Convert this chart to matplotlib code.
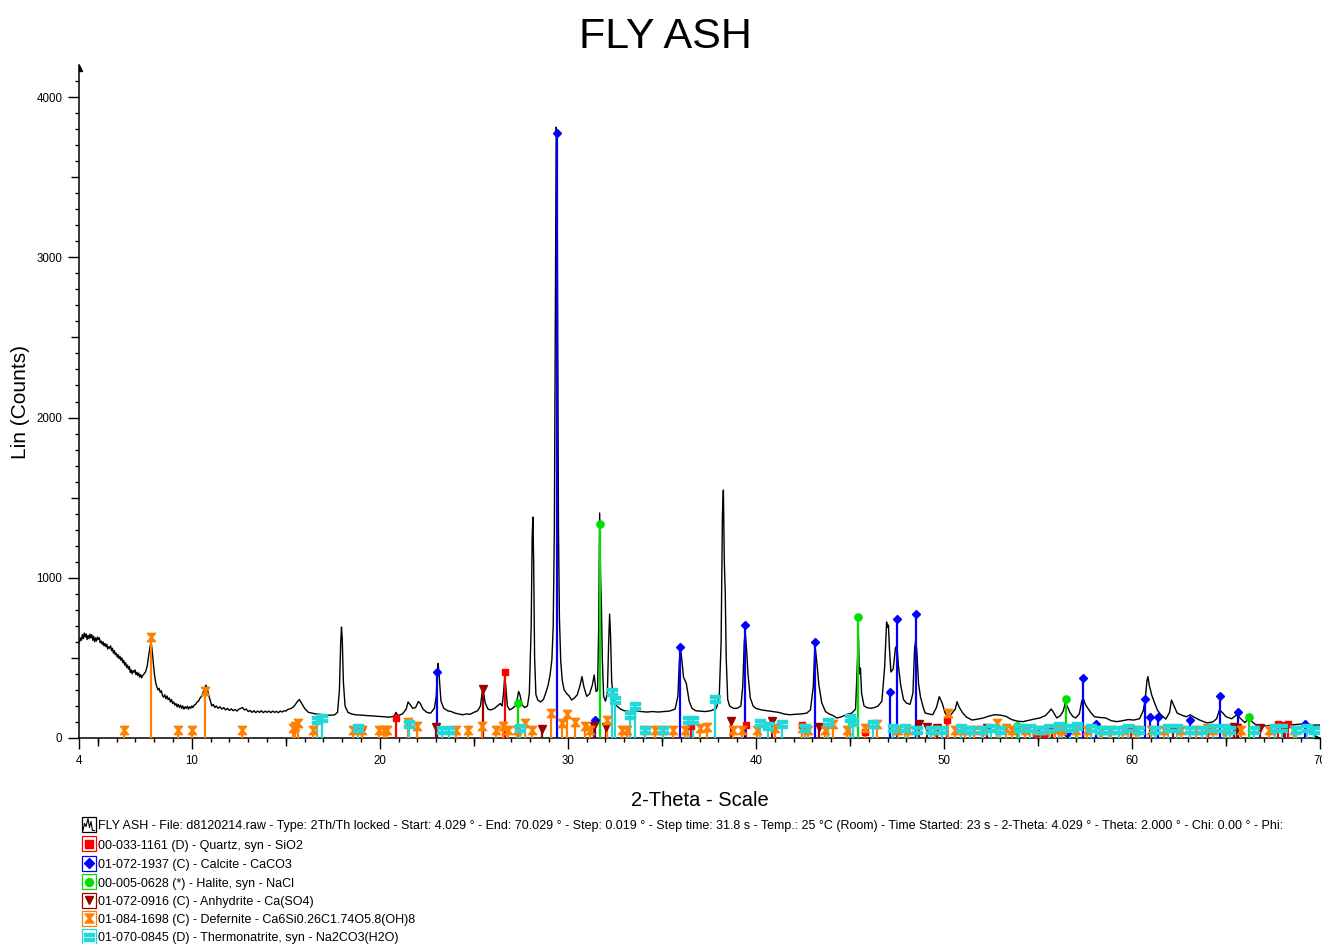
import matplotlib
matplotlib.use("Agg")
import matplotlib.pyplot as plt
from matplotlib.path import Path
from matplotlib.patches import Rectangle

plt.rcParams['font.family'] = ['Liberation Sans', 'DejaVu Sans']

# measured pattern, 2-theta (deg) / counts
two_theta = [
    4.03, 4.08, 4.13, 4.18, 4.23, 4.28, 4.33, 4.38, 4.43, 4.48, 4.53, 4.58, 4.63, 4.68,
    4.73, 4.78, 4.83, 4.88, 4.93, 4.98, 5.03, 5.08, 5.13, 5.18, 5.23, 5.28, 5.33, 5.38,
    5.43, 5.48, 5.53, 5.58, 5.63, 5.68, 5.73, 5.78, 5.83, 5.88, 5.93, 5.98, 6.03, 6.08,
    6.13, 6.18, 6.23, 6.28, 6.33, 6.38, 6.43, 6.48, 6.53, 6.58, 6.63, 6.68, 6.73, 6.78,
    6.83, 6.88, 6.93, 6.98, 7.03, 7.08, 7.13, 7.18, 7.23, 7.28, 7.33, 7.38, 7.43, 7.48,
    7.53, 7.58, 7.63, 7.7, 7.78, 7.83,
    7.88, 7.95, 8.02, 8.08, 8.14, 8.2, 8.26, 8.32, 8.38, 8.44, 8.5, 8.56, 8.62, 8.68,
    8.74, 8.8, 8.86, 8.92, 8.98, 9.04, 9.1, 9.16, 9.22, 9.28, 9.34, 9.4, 9.46, 9.52,
    9.58, 9.64, 9.7, 9.76, 9.82, 9.88, 9.94, 10.0, 10.06, 10.12, 10.2, 10.28, 10.36,
    10.44, 10.52, 10.6, 10.68, 10.75, 10.82, 10.9, 10.98, 11.06, 11.14, 11.22, 11.3,
    11.4, 11.5, 11.6, 11.7, 11.8, 11.9, 12.0, 12.1, 12.2, 12.3, 12.4, 12.5, 12.6, 12.7,
    12.8, 12.9, 13.0, 13.1, 13.2, 13.3, 13.4, 13.5, 13.6, 13.7, 13.8, 13.9, 14.0, 14.1,
    14.2, 14.3, 14.4, 14.5, 14.6, 14.7, 14.8, 14.9, 15.0, 15.1,
    15.3, 15.45, 15.6, 15.72, 15.85, 16.0, 16.2, 16.4, 16.6,
    16.8, 17.0, 17.2, 17.4, 17.6, 17.75, 17.85, 17.92, 17.96, 18.0, 18.06, 18.15, 18.3,
    18.5, 18.7, 19.0, 19.3, 19.6, 19.9, 20.2, 20.5, 20.75, 20.86, 20.95, 21.2, 21.4,
    21.5, 21.6, 21.75, 21.9, 22.05, 22.15, 22.3, 22.5, 22.7, 22.9, 23.0, 23.06, 23.1,
    23.16, 23.25, 23.4, 23.6, 23.8, 24.0, 24.2, 24.4, 24.6, 24.8, 25.0, 25.2, 25.35,
    25.45, 25.52, 25.6, 25.75, 25.9, 26.1, 26.25, 26.4, 26.5, 26.58, 26.64, 26.7,
    26.78, 26.9, 27.05, 27.2, 27.3, 27.38, 27.45, 27.55, 27.7, 27.85, 27.95, 28.05,
    28.1, 28.14, 28.18, 28.23, 28.3, 28.4, 28.55, 28.7, 28.85, 28.95, 29.05, 29.15,
    29.22, 29.28, 29.34, 29.38, 29.42, 29.46, 29.5, 29.55, 29.62, 29.7, 29.8, 29.95,
    30.05, 30.2, 30.35, 30.5, 30.65, 30.75, 30.85, 31.0, 31.15, 31.3, 31.4, 31.5,
    31.58, 31.64, 31.69, 31.74, 31.78, 31.83, 31.9, 32.0, 32.1, 32.17, 32.22, 32.27,
    32.33, 32.45, 32.6, 32.8, 33.0, 33.3, 33.6, 33.9, 34.2, 34.5, 34.8, 35.1, 35.4,
    35.7, 35.85, 35.93, 35.98, 36.05, 36.15, 36.3, 36.45, 36.6, 36.8, 37.0, 37.3, 37.6,
    37.9, 38.05, 38.15, 38.22, 38.27, 38.32, 38.37, 38.42, 38.5, 38.6, 38.8, 39.0,
    39.2, 39.3, 39.38, 39.43, 39.5, 39.58, 39.7, 39.85, 40.0, 40.3, 40.6, 40.9, 41.2,
    41.5, 41.8, 42.1, 42.4, 42.7, 42.9, 43.05, 43.12, 43.17, 43.25, 43.35, 43.5, 43.7,
    43.9, 44.1, 44.3, 44.5, 44.7, 44.9, 45.1, 45.3, 45.39, 45.45, 45.5, 45.56, 45.62,
    45.75, 45.9, 46.1, 46.3, 46.5, 46.7, 46.85, 46.95, 47.0, 47.05, 47.1, 47.18, 47.3,
    47.42, 47.5, 47.58, 47.7, 47.85, 48.0, 48.2, 48.35, 48.44, 48.5, 48.56, 48.65,
    48.75, 48.9, 49.0, 49.2, 49.4, 49.6, 49.75, 49.9, 50.05, 50.2, 50.4, 50.6, 50.7,
    50.8, 51.0, 51.2, 51.5, 51.8, 52.1, 52.4, 52.7, 53.0, 53.3, 53.6, 53.9, 54.2, 54.5,
    54.8, 55.1, 55.4, 55.6, 55.7, 55.8, 56.0, 56.2, 56.35, 56.45, 56.55, 56.7, 56.85,
    57.0, 57.2, 57.33, 57.4, 57.5, 57.6, 57.8, 58.0, 58.3, 58.6, 58.9, 59.2, 59.5,
    59.8, 60.1, 60.4, 60.6, 60.7, 60.8, 60.85, 60.92, 61.05, 61.2, 61.35, 61.5, 61.8,
    62.0, 62.1, 62.2, 62.4, 62.7, 62.9, 63.1, 63.3, 63.6, 64.0, 64.3, 64.5, 64.65,
    64.8, 65.0, 65.3, 65.55, 65.7, 66.0, 66.25, 66.4, 66.6, 67.0, 67.5, 68.0, 68.5,
    69.0, 69.5, 70.0,
]
counts = [
    600, 625, 610, 645, 620, 655, 630, 650, 615, 640, 620, 648, 625, 645,
    610, 635, 600, 625, 605, 630, 615, 625, 595, 605, 585, 600, 575, 590,
    570, 585, 555, 570, 560, 575, 545, 560, 530, 545, 520, 530, 505, 520,
    495, 510, 485, 500, 470, 485, 455, 470, 440, 455, 430, 445, 410, 425,
    400, 420, 410, 425, 395, 410, 390, 405, 380, 395, 375, 390, 395, 405,
    410, 430, 450, 510, 570, 600,
    560, 470, 390, 345, 320, 300, 310, 285, 295, 265, 255, 270, 245, 262,
    240, 250, 225, 240, 215, 225, 205, 215, 195, 210, 190, 205, 185, 200,
    180, 195, 185, 198, 180, 195, 185, 200, 190, 205, 210, 225, 230,
    250, 260, 285, 310, 330, 310, 265, 235, 200, 210, 190, 200,
    185, 195, 180, 190, 175, 185, 172, 182, 170, 178, 168, 180, 185, 190,
    175, 180, 165, 172, 160, 170, 158, 168, 160, 170, 158, 168, 160, 168,
    158, 168, 160, 166, 158, 168, 162, 170, 168, 178,
    185, 200, 225, 240, 215, 185, 160, 155, 150,
    148, 145, 143, 142, 145, 160, 300, 600, 692, 620, 350, 200, 160,
    150, 145, 143, 140, 138, 135, 133, 130, 135, 160, 140, 150, 180,
    225, 210, 185, 190, 228, 215, 180, 160, 155, 185, 260, 420, 465,
    380, 230, 185, 170, 165, 155, 150, 145, 150, 148, 160, 170, 200,
    290, 280, 220, 180, 175, 185, 200, 215, 200, 280, 382, 320,
    200, 175, 185, 200, 240, 290, 270, 210, 190, 200, 280, 700,
    1250, 1379, 1100, 500, 270, 237, 225, 240, 290, 330, 390, 490,
    700, 1300, 2800, 3812, 3700, 2500, 1300, 750, 480, 360, 300, 275,
    265, 237, 250, 270, 330, 383, 320, 260, 275, 330, 393, 290,
    300, 700, 1404, 1000, 850, 500, 260, 230, 280, 600, 773, 640,
    350, 230, 200, 180, 170, 165, 170, 165, 162, 165, 162, 165, 168,
    180, 260, 480, 565, 500, 380, 340, 230, 185, 170, 168, 165, 170,
    185, 260, 600, 1400, 1547, 1100, 900, 500, 240, 200, 185, 185,
    200, 320, 600, 661, 560, 400, 250, 200, 185, 175, 170, 165, 160,
    150, 145, 148, 150, 155, 175, 320, 530, 549, 460, 330, 220, 165,
    150, 140, 125, 130, 140, 150, 155, 180, 450, 655, 400, 437, 280,
    200, 190, 185, 190, 200, 230, 450, 724, 690, 705, 560, 412, 430,
    560, 580, 450, 330, 240, 218, 210, 280, 560, 611, 540, 340,
    258, 190, 156, 150, 145, 190, 258, 220, 160, 133, 150, 180, 226,
    195, 156, 130, 112, 118, 125, 137, 145, 143, 135, 115, 105, 102, 110,
    118, 125, 140, 165, 181, 165, 125, 140, 170, 218, 200, 160, 135,
    125, 150, 230, 250, 215, 195, 160, 133, 128, 125, 108, 102, 108,
    115, 112, 120, 170, 237, 360, 383, 330, 268, 220, 175, 150, 118,
    160, 237, 210, 156, 140, 133, 145, 130, 112, 94, 100, 120, 175,
    160, 133, 120, 143, 130, 96, 125, 100, 81, 75, 80, 78, 82,
    87, 80, 81,
]

# reference patterns: line positions and scaled intensities
quartz_pos = [20.86, 26.64, 36.54, 39.47, 42.45, 45.79, 50.14, 54.87, 55.33, 59.96, 64.03, 67.74, 68.14, 68.32]
quartz_int = [125, 412, 75, 81, 81, 40, 112, 30, 25, 60, 50, 87, 80, 85]

calcite_pos = [23.06, 29.41, 31.42, 35.97, 39.41, 43.16, 47.12, 47.5, 48.51, 56.57, 57.41, 58.1,
               60.68, 60.98, 61.36, 63.06, 64.68, 65.63, 69.22]
calcite_int = [412, 3774, 112, 568, 705, 600, 289, 742, 773, 30, 374, 87,
               243, 131, 131, 110, 262, 162, 87]

halite_pos = [27.33, 31.69, 45.45, 53.87, 56.48, 66.23]
halite_int = [216, 1335, 755, 75, 243, 131]

anhydrite_pos = [19.04, 22.97, 25.47, 28.63, 31.39, 32.03, 38.66, 40.84, 43.36, 48.66, 49.12,
                 49.62, 52.3, 55.75, 62.2, 65.4, 65.6, 66.8, 68.1]
anhydrite_int = [50, 69, 304, 56, 75, 69, 106, 106, 69, 90, 66,
                 60, 62, 55, 55, 69, 60, 62, 55]

defernite_pos = [6.39, 7.83, 9.27, 10.0, 10.72, 12.67, 15.38, 15.5, 15.63, 16.42, 18.56, 19.04,
                 19.96, 20.2, 20.38, 21.48, 21.96, 24.05, 24.7, 25.45, 26.2, 26.57, 26.8, 27.3,
                 27.7, 28.08, 29.1, 29.67, 29.94, 30.38, 30.9, 31.2, 32.07, 32.87, 33.13, 34.1,
                 34.64, 35.07, 35.6, 36.23, 37.03, 37.39, 38.8, 39.25, 40.04, 41.0, 42.44, 42.78,
                 43.68, 44.1, 44.83, 45.8, 46.43, 47.56, 48.1, 49.5, 50.2, 50.6, 51.1, 51.6,
                 52.1, 52.8, 53.3, 53.6, 54.3, 54.9, 55.4, 55.9, 56.3, 57.0, 57.6, 58.4, 58.9,
                 59.5, 60.2, 61.0, 61.7, 62.6, 63.4, 64.0, 64.3, 65.0, 65.8, 67.3, 68.6]
defernite_int = [50, 630, 50, 50, 293, 50, 62, 75, 94, 50, 50, 50,
                 50, 50, 50, 100, 75, 50, 50, 75, 50, 75, 50, 50,
                 94, 50, 156, 94, 150, 100, 75, 50, 112, 50, 50, 50,
                 50, 50, 50, 50, 62, 70, 50, 50, 50, 62, 62, 50,
                 50, 87, 50, 62, 87, 50, 50, 50, 156, 50, 50, 50,
                 50, 94, 62, 50, 50, 50, 50, 55, 50, 50, 50, 50, 50,
                 50, 50, 50, 50, 50, 50, 62, 50, 50, 50, 50, 50]

thermo_pos = [16.64, 16.9, 18.82, 21.55, 23.3, 23.68, 27.46, 32.33, 32.5, 33.3, 33.57, 34.1,
              35.07, 36.4, 36.66, 37.8, 40.2, 40.64, 41.37, 42.6, 43.85, 45.0, 45.17, 46.24,
              47.3, 47.93, 48.55, 49.3, 49.9, 50.9, 51.4, 52.0, 52.5, 53.0, 54.0, 54.6, 55.1,
              55.6, 56.1, 56.7, 57.1, 57.8, 58.3, 58.8, 59.3, 59.8, 60.4, 61.2, 61.9, 62.4,
              63.1, 63.7, 64.3, 64.9, 65.2, 66.5, 67.6, 68.0, 68.7, 69.3, 69.7]
thermo_int = [112, 125, 62, 90, 50, 50, 62, 287, 237, 143, 200, 50,
              50, 112, 112, 243, 94, 75, 87, 62, 102, 125, 100, 87,
              62, 62, 50, 50, 50, 62, 50, 50, 62, 50, 62, 62, 50,
              62, 75, 62, 75, 62, 50, 50, 50, 62, 50, 50, 62, 62,
              50, 50, 62, 62, 50, 50, 62, 62, 50, 62, 50]

header = ("FLY ASH - File: d8120214.raw - Type: 2Th/Th locked - Start: 4.029 \u00b0 - End: 70.029 \u00b0 - "
          "Step: 0.019 \u00b0 - Step time: 31.8 s - Temp.: 25 \u00b0C (Room) - Time Started: 23 s - "
          "2-Theta: 4.029 \u00b0 - Theta: 2.000 \u00b0 - Chi: 0.00 \u00b0 - Phi:")
phase_labels = [
    "00-033-1161 (D) - Quartz, syn - SiO2",
    "01-072-1937 (C) - Calcite - CaCO3",
    "00-005-0628 (*) - Halite, syn - NaCl",
    "01-072-0916 (C) - Anhydrite - Ca(SO4)",
    "01-084-1698 (C) - Defernite - Ca6Si0.26C1.74O5.8(OH)8",
    "01-070-0845 (D) - Thermonatrite, syn - Na2CO3(H2O)",
]

# custom markers: hourglass and double bar
hourglass = Path([(-1, 1), (1, 1), (0.15, 0), (1, -1), (-1, -1), (-0.15, 0), (-1, 1)],
                 [Path.MOVETO] + [Path.LINETO] * 5 + [Path.CLOSEPOLY])
bars = Path([(-1, 0.2), (1, 0.2), (1, 0.9), (-1, 0.9), (-1, 0.2),
             (-1, -0.9), (1, -0.9), (1, -0.2), (-1, -0.2), (-1, -0.9)],
            [Path.MOVETO, Path.LINETO, Path.LINETO, Path.LINETO, Path.CLOSEPOLY] * 2)
half_arrow_x = Path([(-1, 0.55), (-1, 0), (0, 0), (-1, 0.55)],
                    [Path.MOVETO, Path.LINETO, Path.LINETO, Path.CLOSEPOLY])
half_arrow_y = Path([(0, 0), (0, -1), (0.55, -1), (0, 0)],
                    [Path.MOVETO, Path.LINETO, Path.LINETO, Path.CLOSEPOLY])

phases = [
    (quartz_pos, quartz_int, '#FF0000', 's', 5.0),
    (calcite_pos, calcite_int, '#0000FF', 'D', 4.2),
    (halite_pos, halite_int, '#00E000', 'o', 5.2),
    (anhydrite_pos, anhydrite_int, '#A00000', 'v', 5.5),
    (defernite_pos, defernite_int, '#FF8000', hourglass, 6.0),
    (thermo_pos, thermo_int, '#22D8D8', bars, 6.5),
]

W, H = 1322, 944
fig = plt.figure(figsize=(W / 100, H / 100), dpi=100)

# legend drawn in pixel coordinates
leg = fig.add_axes([0, 0, 1, 1])
leg.set_xlim(0, W)
leg.set_ylim(H, 0)
leg.axis('off')

ax = fig.add_axes([79 / W, 1 - 738 / H, (1320 - 79) / W, (738 - 65) / H])
ax.set_xlim(4, 70)
ax.set_ylim(0, 4200)

ax.plot(two_theta, counts, color='black', lw=1.0, zorder=3)

for pos, inten, col, mk, ms in phases:
    ax.vlines(pos, 0, inten, color=col, lw=1.6, zorder=4)
    ax.plot(pos, inten, ls='none', marker=mk, ms=ms, color=col, mec=col, zorder=5, clip_on=False)

for s in ['top', 'right']:
    ax.spines[s].set_visible(False)
for s in ['left', 'bottom']:
    ax.spines[s].set_linewidth(1.1)

ax.set_xticks([4, 10, 20, 30, 40, 50, 60, 70])
ax.set_xticks(range(5, 70), minor=True)
ax.set_yticks([0, 1000, 2000, 3000, 4000])
ax.set_yticks([v for v in range(100, 4200, 100) if v % 500], minor=True)
ax.tick_params(axis='both', which='major', length=8, width=1, labelsize=8.3, pad=4)
ax.tick_params(axis='both', which='minor', length=3, width=1)

# medium ticks at 5-degree and 500-count steps
xmid = ax.secondary_xaxis('bottom')
xmid.set_xticks([v for v in range(5, 70, 5) if v % 10])
xmid.tick_params(length=5.5, width=1, labelbottom=False)
xmid.spines['bottom'].set_visible(False)
ymid = ax.secondary_yaxis('left')
ymid.set_yticks([500, 1500, 2500, 3500])
ymid.tick_params(length=5.5, width=1, labelleft=False)
ymid.spines['left'].set_visible(False)

ax.plot(1, 0, marker=half_arrow_x, ms=9, color='black', transform=ax.transAxes, clip_on=False)
ax.plot(0, 1, marker=half_arrow_y, ms=9, color='black', transform=ax.transAxes, clip_on=False)

fig.text(665 / W, 1 - 37 / H, "FLY ASH", fontsize=31, ha='center', va='center')
fig.text(700 / W, 1 - 800 / H, "2-Theta - Scale", fontsize=14.5, ha='center', va='center')
fig.text(21 / W, 1 - 402 / H, "Lin (Counts)", fontsize=15, rotation=90, ha='center', va='center')

rows = [824.5, 843.5, 863, 881.5, 900, 918, 936.5]
yc = rows[0]
leg.add_patch(Rectangle((82, yc - 7.5), 14, 15, facecolor='white', edgecolor='black', lw=0.9))
leg.plot([83, 84.5, 86, 88, 89.5, 91, 92.5, 94.5],
         [yc + 6, yc - 1, yc + 2, yc - 6, yc + 3, yc - 3, yc + 6, yc + 6], color='black', lw=0.8)
leg.text(98, yc + 2, header, fontsize=9, va='center', ha='left')
for (pos, inten, col, mk, ms), label, yc in zip(phases, phase_labels, rows[1:]):
    leg.add_patch(Rectangle((82, yc - 7.5), 14, 15, facecolor='white', edgecolor=col, lw=0.9))
    leg.plot(89, yc, marker=mk, ms=ms + 0.5, color=col, mec=col)
    leg.text(98, yc + 2, label, fontsize=9, va='center', ha='left')

fig.savefig("out.png", dpi=100)
